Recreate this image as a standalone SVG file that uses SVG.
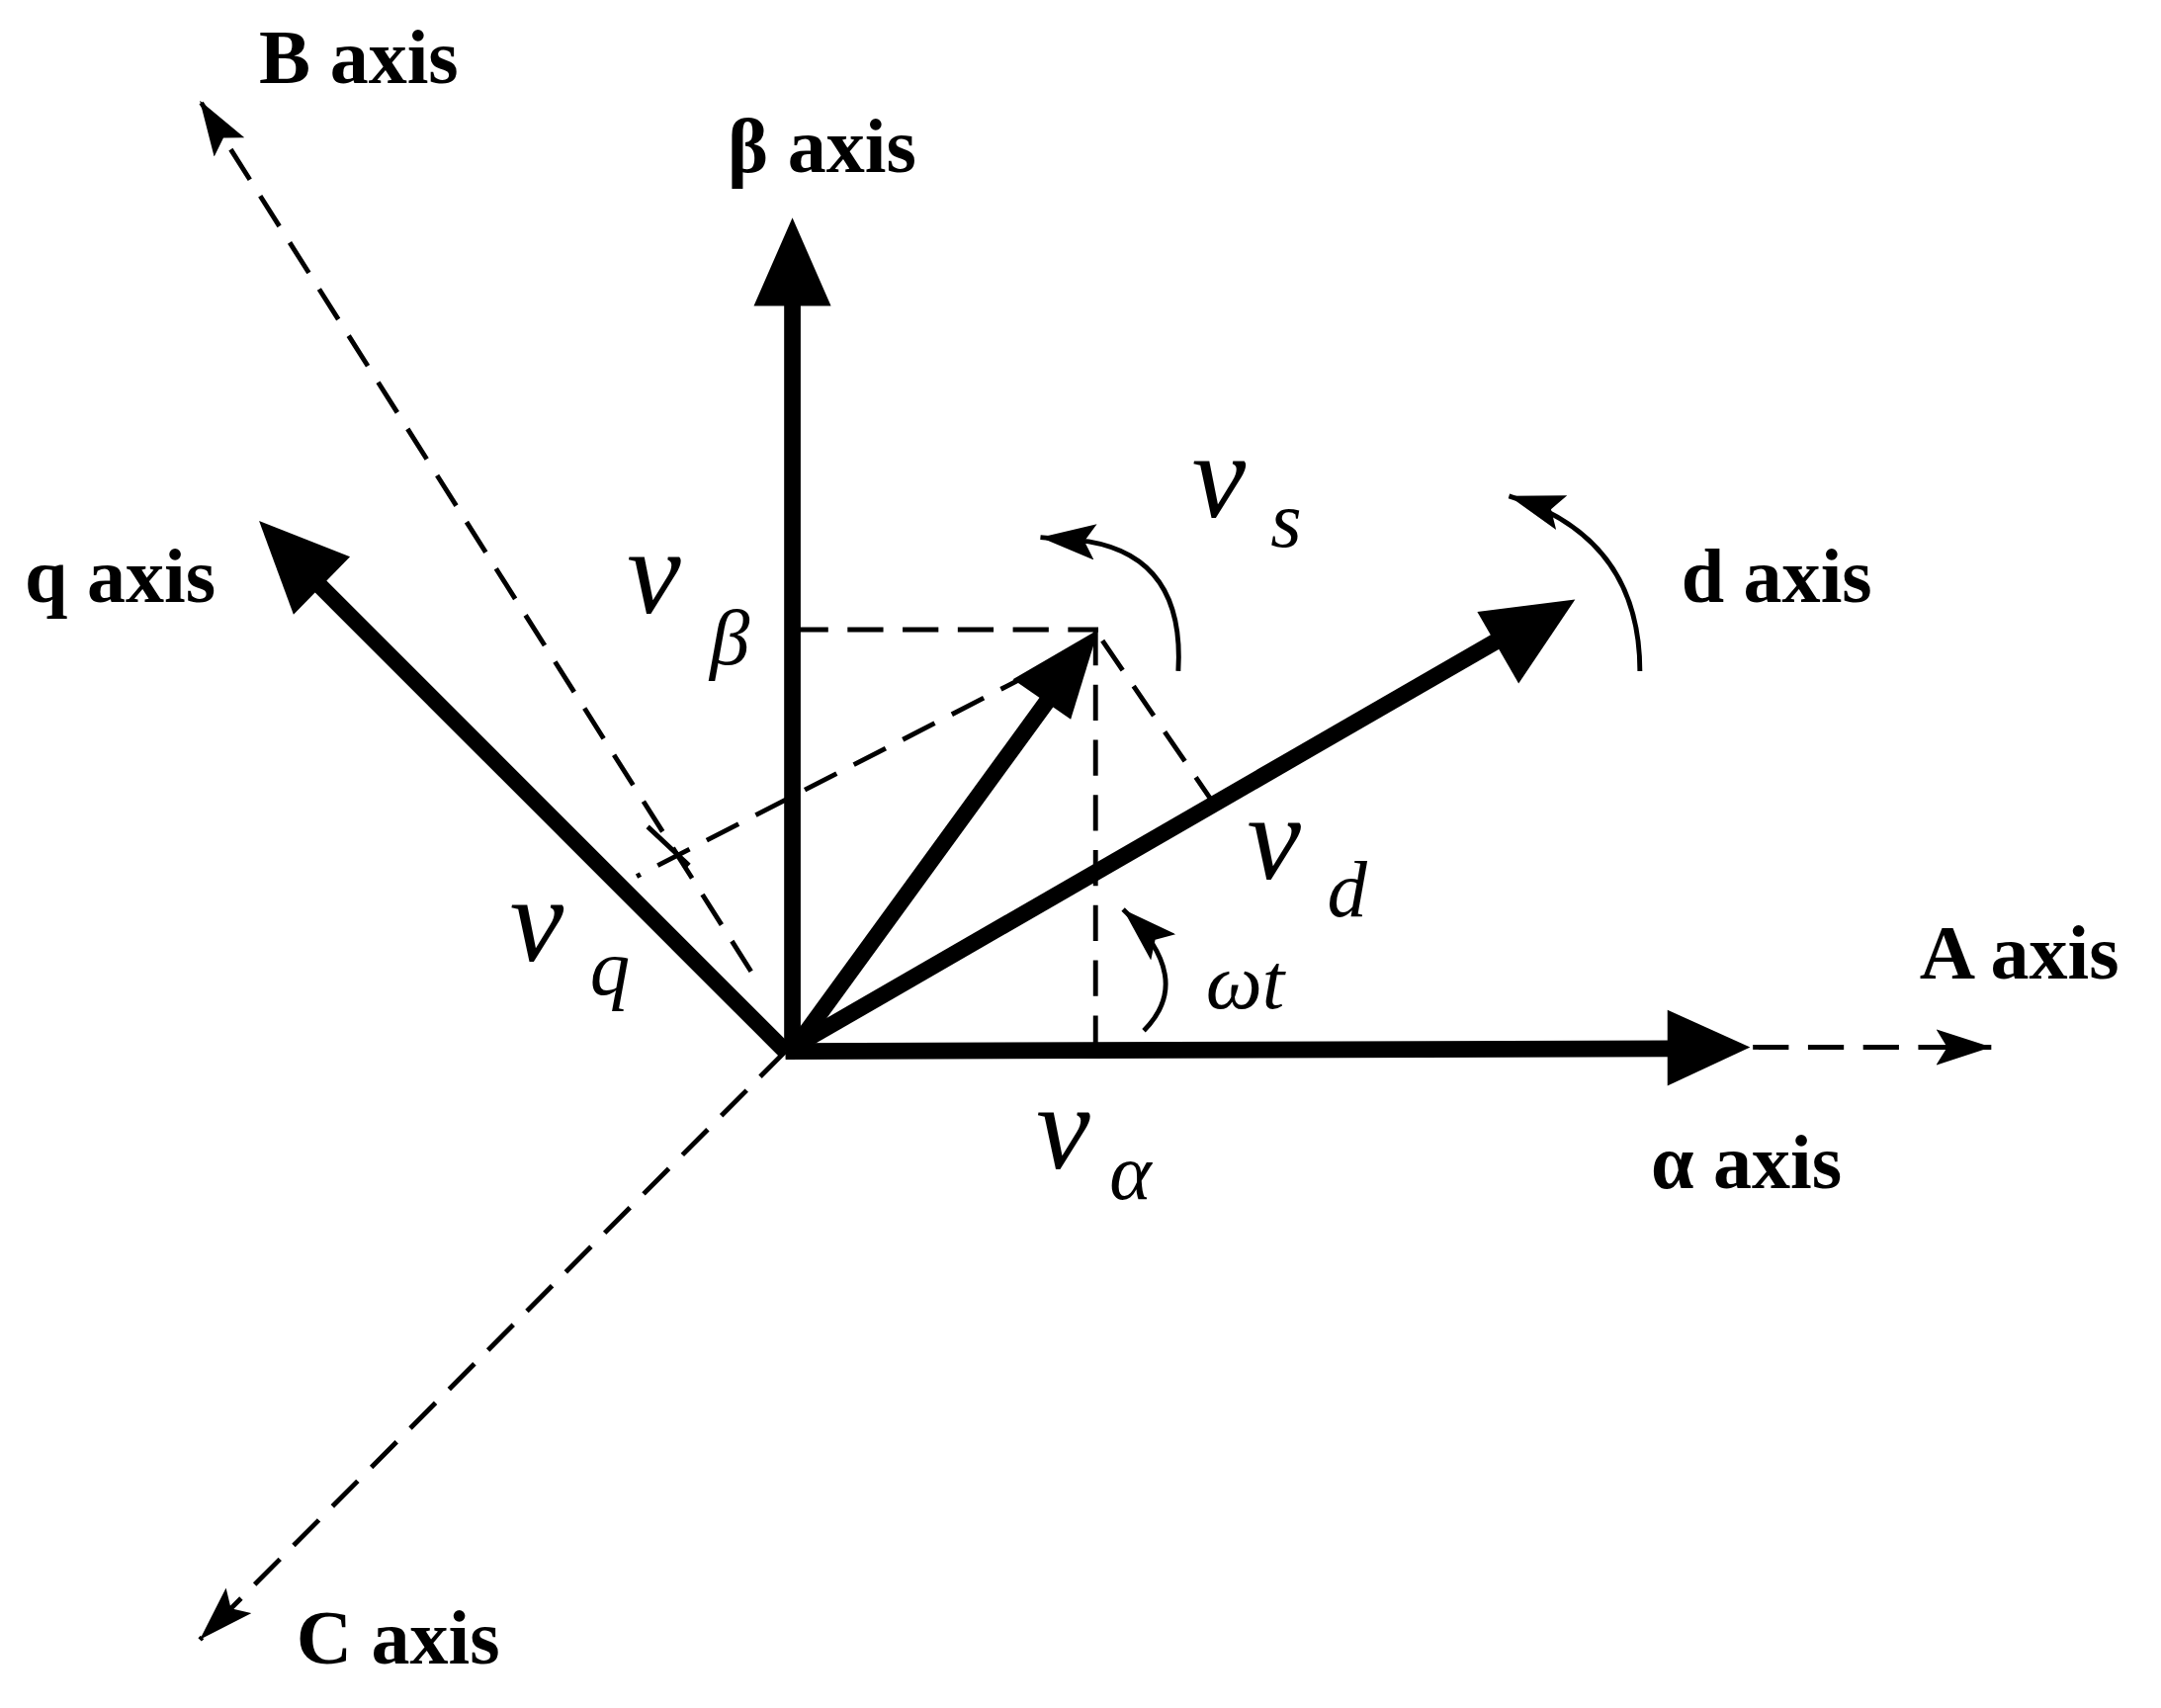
<svg xmlns="http://www.w3.org/2000/svg" width="2186" height="1728" viewBox="0 0 2186 1728">
<style>
.th{stroke:#000;stroke-width:12;fill:none}
.ds{stroke:#000;stroke-width:3.5;fill:none;stroke-dasharray:26,14}
.ar{stroke:#000;stroke-width:3.5;fill:none}
.lb{font-family:"Liberation Serif",serif;font-weight:bold;font-size:56px}
.v{font-family:"Liberation Serif",serif;font-style:italic;font-size:88px}
.s{font-family:"Liberation Serif",serif;font-style:italic;font-size:58px}
</style>
<defs>
<marker id="sm" viewBox="0 0 40 26" refX="40" refY="13" markerWidth="40" markerHeight="26" markerUnits="userSpaceOnUse" orient="auto"><path d="M0,0 L40,13 L0,26 L8,13 Z"/></marker>
</defs>
<rect width="2186" height="1728" fill="#fff"/>
<g transform="scale(1.394)">
<g id="connectors">
<line class="ds" x1="1272" y1="760" x2="1445" y2="760" marker-end="url(#sm)"/>
<line class="ds" x1="545" y1="705" x2="145" y2="73" marker-end="url(#sm)"/>
<line class="ds" x1="570" y1="763" x2="145" y2="1190" marker-end="url(#sm)"/>
<line class="ds" x1="575" y1="457" x2="797" y2="457"/>
<line class="ds" x1="795" y1="457" x2="795" y2="760"/>
<line class="ds" x1="785" y1="470" x2="462" y2="636"/>
<line class="ds" x1="800" y1="465" x2="880" y2="582"/>
<line class="ar" x1="470" y1="600" x2="500" y2="628"/>
<line class="th" x1="570" y1="763" x2="1215" y2="761"/>
<polygon points="1270,760 1210,733 1210,788"/>
<line class="th" x1="575" y1="763" x2="575" y2="215"/>
<polygon points="575,158 547,222 603,222"/>
<line class="th" x1="570" y1="763" x2="225" y2="418"/>
<polygon points="188,378 213,446 254,404"/>
<line class="th" x1="570" y1="763" x2="1095" y2="460"/>
<polygon points="1143,435 1072,444 1102,496"/>
<line class="th" x1="575" y1="763" x2="770" y2="495"/>
<polygon points="797,457 735,493 777,522"/>
<path class="ar" d="M830,748 Q868,710 815,660" marker-end="url(#sm)"/>
<path class="ar" d="M855,487 Q860,405 790,393 L755,390" marker-end="url(#sm)"/>
<path class="ar" d="M1190,487 Q1190,390 1095,360" marker-end="url(#sm)"/>
</g>
<g id="labels">
<text class="lb" x="188" y="60">B axis</text>
<text class="lb" x="528" y="125">β axis</text>
<text class="lb" x="18" y="437">q axis</text>
<text class="lb" x="1220" y="437">d axis</text>
<text class="lb" x="1393" y="710">A axis</text>
<text class="lb" x="1198" y="862">α axis</text>
<text class="lb" x="215" y="1207">C axis</text>
<text class="v" x="455" y="445">v</text><text class="s" x="515" y="482">β</text>
<text class="v" x="865" y="375">v</text><text class="s" x="922" y="397">s</text>
<text class="v" x="905" y="638">v</text><text class="s" x="963" y="665">d</text>
<text class="v" x="370" y="697">v</text><text class="s" x="428" y="722">q</text>
<text class="v" x="752" y="848">v</text><text class="s" x="805" y="870">α</text>
<text class="s" x="875" y="732">ωt</text>
</g>
</g>
</svg>
